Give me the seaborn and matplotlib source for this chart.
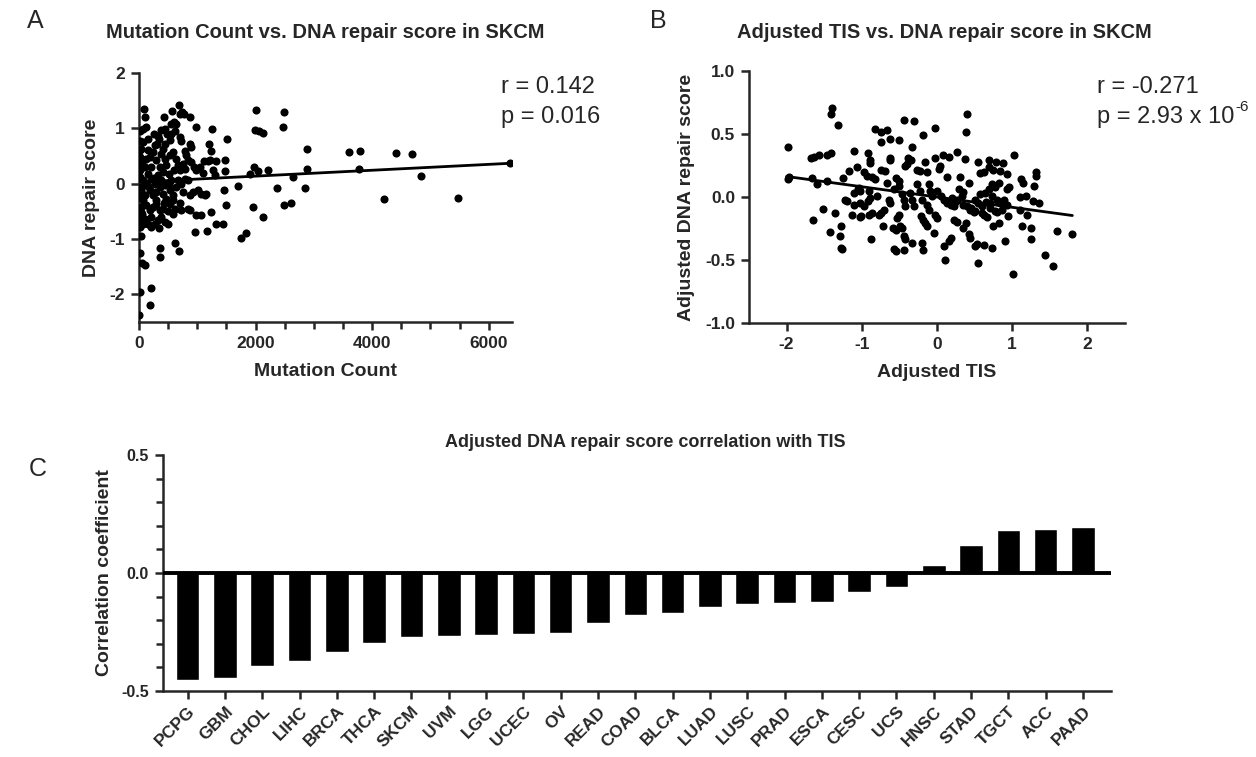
import numpy as np
import pandas as pd
import matplotlib
matplotlib.use("Agg")
import matplotlib.pyplot as plt
from matplotlib.ticker import MultipleLocator
import seaborn as sns

# panel A: mutation count vs DNA repair score
mut_count = [0, 23, 183, 212, 57, 97, 23, 40, 367, 367, 613, 688, 968, 1169, 1318, 1444,
             1748, 1834, 986, 1060, 1232, 1490, 1060, 1129, 1158, 1014, 928, 871, 842, 871,
             699, 584, 728, 1461, 1702, 1948, 2132, 2361, 2487, 2607, 2636, 2206, 1977, 2034,
             1902, 1518, 2005, 2487, 2476, 1988, 2063, 2120, 2876, 2876, 2848, 1255, 1203, 1243,
             1215, 1112, 1186, 1318, 1473, 1473, 1272, 1301, 1043, 1100, 986, 882, 774, 745,
             682, 573, 424, 80, 97, 69, 126, 384, 441, 327, 315, 556, 596, 642, 699, 613, 556,
             539, 699, 728, 871, 900, 785, 814, 842, 900, 940, 986, 756, 785, 642, 670, 699,
             584, 527, 441, 413, 384, 269, 241, 183, 155, 69, 40, 23, 57, 11, 97, 155, 212,
             298, 355, 413, 470, 516, 556, 327, 384, 441, 69, 126, 40, 183, 241, 298, 355, 413,
             470, 527, 584, 642, 69, 126, 183, 40, 97, 155, 212, 269, 327, 384, 441, 499, 241,
             298, 355, 413, 527, 584, 11, 69, 23, 670, 728, 785, 842, 756, 11, 23, 11, 0, 11,
             23, 11, 40, 150, 200, 250, 300, 350, 450, 500, 100, 200, 260, 480, 520, 600, 620,
             160, 280, 340, 120, 60, 430, 3600, 3790, 3780, 4200, 4405, 4680, 4845, 5465, 6365]
repair_score = [-2.37, -1.95, -2.2, -1.89, -1.43, -1.47, -1.25, -0.95, -1.17, -1.33, -1.08,
                -1.22, -0.88, -0.86, -0.72, -0.73, -0.99, -0.9, -0.57, -0.57, -0.51, -0.38,
                -0.19, -0.21, -0.18, -0.12, -0.15, -0.21, -0.45, -0.48, -0.35, -0.54, -0.48,
                -0.12, -0.05, -0.42, -0.6, -0.07, -0.38, -0.35, 0.12, 0.24, 0.31, 0.23, 0.17,
                0.81, 1.33, 1.30, 1.02, 0.97, 0.96, 0.91, 0.62, 0.27, -0.07, 0.99, 0.72, 0.59,
                0.42, 0.41, 0.41, 0.41, 0.42, 0.23, 0.24, 0.15, 0.30, 0.19, 1.02, 1.2, 1.26,
                1.29, 1.43, 1.32, 1.21, 1.35, 1.2, 0.99, 1.02, 0.97, 0.99, 0.87, 0.72, 1.08,
                1.11, 1.08, 1.26, 0.96, 0.9, 0.79, 0.84, 0.78, 0.72, 0.66, 0.59, 0.51, 0.42,
                0.39, 0.30, 0.24, 0.36, 0.27, 0.45, 0.33, 0.24, 0.57, 0.51, 0.72, 0.63, 0.54,
                0.69, 0.57, 0.48, 0.81, 0.75, 0.63, 0.48, 0.36, 0.24, 0.30, 0.18, 0.09, 0.42,
                0.30, 0.21, 0.33, 0.18, 0.06, 0.15, 0.06, -0.03, 0.06, -0.03, -0.12, -0.12,
                -0.21, -0.15, -0.06, -0.18, -0.27, -0.12, -0.21, -0.06, -0.30, -0.39, -0.48,
                -0.51, -0.63, -0.72, -0.78, -0.72, -0.66, -0.60, -0.69, -0.73, -0.42, -0.36,
                -0.48, -0.45, -0.36, -0.30, -0.78, -0.72, -0.66, 0.06, 0.0, 0.09, 0.06, -0.15,
                0.96, 0.78, 0.60, 0.36, 0.12, -0.06, -0.24, -0.42, 0.6, 0.3, 0.1, -0.3, 0.8,
                0.45, -0.5, -0.2, -0.6, 0.9, 0.9, 0.0, 0.25, -0.45, -0.05, 0.0, -0.8, 0.45,
                -0.55, -0.35, 0.58, 0.59, 0.27, -0.28, 0.56, 0.53, 0.14, -0.26, 0.37]
fit_a_x = [0, 6400]
fit_a_y = [0.03, 0.37]

# panel B: adjusted TIS vs adjusted DNA repair score
adj_tis = [-1.39, -1.41, -1.31, -1.98, -0.44, -0.30, 0.40, 0.38, -0.02, -0.18, -0.82, -0.75,
           -0.67, -0.75, -0.62, -0.51, -0.33, -1.98, -1.97, -1.68, -1.64, -1.57, -1.46, -1.41,
           -1.11, -0.92, -0.89, -0.885, -0.62, -0.62, -0.38, -0.35, -0.16, -0.02, 0.08, 0.155,
           0.27, 0.37, 0.54, 0.69, 0.79, 0.88, 1.03, -1.17, -1.06, -0.97, -0.93, -0.86, -0.83,
           -0.75, -0.69, -0.54, -0.51, -0.42, -0.40, -0.265, -0.22, -0.13, 0.02, 0.04, 0.13,
           0.31, 0.42, 0.575, 0.63, 0.69, 0.75, 0.84, 0.93, 1.12, 1.15, 1.31, 1.32, 1.29,
           -1.66, -1.59, -1.46, -1.25, -1.05, -1.02, -1.22, -1.20, -1.11, -1.02, -0.92, -1.01,
           -1.02, -0.86, -0.77, -0.80, -0.67, -0.64, -0.62, -0.575, -0.51, -0.46, -0.44, -0.42,
           -0.36, -0.33, -0.31, -0.265, -0.22, -0.2, -0.11, -0.09, -0.066, -0.13, -0.11, 0.0,
           0.05, 0.09, 0.13, 0.18, 0.22, 0.2, 0.27, 0.33, 0.29, 0.345, 0.4, 0.44, 0.49, 0.51,
           0.55, 0.6, 0.575, 0.64, 0.69, 0.73, 0.77, 0.82, 0.73, 0.8, 0.84, 0.71, 0.77, 0.62,
           0.66, 0.86, 0.93, 0.96, 0.885, 0.93, 0.95, 1.10, 1.19, 1.28, 1.35, 1.11, 1.2, 1.13,
           1.25, 1.25, 0.75, 0.82, 0.91, 0.73, 0.62, 0.53, 0.5, 0.44, 0.42, 0.345, 0.38, 0.22,
           0.27, 0.18, 0.155, 0.09, 0.11, 0.55, 1.01, 1.44, 1.54, 1.6, 1.8, -0.044, -0.02, 0.0,
           -0.13, -0.155, -0.21, -0.18, -0.2, -0.18, -0.33, -0.44, -0.42, -0.46, -0.49, -0.58,
           -0.55, -0.72, -0.575, -0.55, -0.44, -0.876, -0.51, -0.53, -0.75, -0.71, -0.9, -1.13,
           -1.28, -1.26, -1.28, -1.29, -1.42, -1.35, -1.51, -1.65, -1.04, -0.91, -0.885, -0.97,
           -1.11, 0.35, 0.45, 0.6, 0.7, 0.25, 0.5, 0.65, 0.8]
adj_repair = [0.707, 0.66, 0.573, 0.40, 0.61, 0.60, 0.66, 0.515, 0.547, 0.49, 0.536, 0.515,
              0.528, 0.44, 0.46, 0.456, 0.395, 0.14, 0.16, 0.31, 0.32, 0.33, 0.33, 0.35, 0.363,
              0.35, 0.29, 0.27, 0.31, 0.29, 0.31, 0.29, 0.28, 0.31, 0.33, 0.32, 0.355, 0.30,
              0.28, 0.29, 0.275, 0.27, 0.333, 0.21, 0.235, 0.195, 0.17, 0.155, 0.14, 0.215,
              0.21, 0.147, 0.13, 0.25, 0.26, 0.215, 0.21, 0.2, 0.22, 0.25, 0.16, 0.16, 0.115,
              0.19, 0.2, 0.235, 0.215, 0.21, 0.18, 0.14, 0.115, 0.2, 0.17, 0.09, 0.147, 0.10,
              0.128, 0.15, 0.067, 0.05, -0.02, -0.03, -0.067, -0.05, -0.03, -0.147, -0.157,
              -0.13, -0.14, 0.01, 0.11, -0.02, -0.045, 0.06, 0.09, 0.02, -0.02, -0.07, 0.035,
              -0.025, -0.07, 0.10, 0.05, -0.02, 0.10, 0.05, 0.01, -0.06, -0.1, 0.05, 0.01,
              -0.02, -0.045, -0.06, -0.07, -0.005, -0.02, 0.01, 0.06, 0.04, -0.07, -0.1, -0.12,
              -0.02, -0.045, -0.07, 0.02, 0.035, 0.06, 0.1, 0.083, 0.115, 0.01, -0.02, -0.045,
              -0.085, -0.11, -0.14, -0.157, -0.1, 0.06, 0.083, -0.02, -0.067, -0.15, 0.003,
              0.01, -0.03, -0.045, -0.1, -0.14, -0.227, -0.245, -0.33, -0.23, -0.205, -0.35,
              -0.405, -0.38, -0.37, -0.39, -0.325, -0.29, -0.245, -0.21, -0.18, -0.2, -0.325,
              -0.35, -0.39, -0.5, -0.52, -0.613, -0.46, -0.547, -0.267, -0.29, -0.285, -0.14,
              -0.165, -0.23, -0.205, -0.15, -0.18, -0.365, -0.42, -0.365, -0.31, -0.333,
              -0.245, -0.232, -0.245, -0.26, -0.227, -0.413, -0.432, -0.424, -0.33, -0.14,
              -0.165, -0.125, -0.1, -0.14, -0.14, -0.232, -0.413, -0.405, -0.31, -0.28, -0.13,
              -0.093, -0.18, 0.075, 0.05, -0.005, -0.07, 0.035, -0.06, -0.09, -0.13, -0.05,
              -0.03, -0.11, -0.04, -0.12]
fit_b_x = [-2.0, 1.8]
fit_b_y = [0.163, -0.147]

# panel C: correlation with TIS per cancer type
cancer_types = ["PCPG", "GBM", "CHOL", "LIHC", "BRCA", "THCA", "SKCM", "UVM", "LGG", "UCEC",
                "OV", "READ", "COAD", "BLCA", "LUAD", "LUSC", "PRAD", "ESCA", "CESC", "UCS",
                "HNSC", "STAD", "TGCT", "ACC", "PAAD"]
corr_coef = [-0.453, -0.446, -0.392, -0.371, -0.333, -0.295, -0.271, -0.266, -0.263, -0.259,
             -0.253, -0.212, -0.180, -0.171, -0.145, -0.131, -0.128, -0.124, -0.079, -0.060,
             0.036, 0.118, 0.182, 0.185, 0.196]

sns.set_style("ticks")
plt.rcParams['font.family'] = ['Liberation Sans', 'DejaVu Sans']
plt.rcParams['axes.unicode_minus'] = False
plt.rcParams['axes.linewidth'] = 1.8

W, H = 1256, 757
fig = plt.figure(figsize=(W / 100, H / 100), dpi=100)


def rect(x0, y0, x1, y1):
    # pixel box -> figure fraction
    return [x0 / W, 1 - y1 / H, (x1 - x0) / W, (y1 - y0) / H]


def style_axes(ax, size=12.5):
    sns.despine(ax=ax)
    ax.tick_params(which='major', direction='out', length=6, width=1.8, pad=4, labelsize=size)
    ax.tick_params(which='minor', direction='out', length=5, width=1.8)
    for lab in ax.get_xticklabels() + ax.get_yticklabels():
        lab.set_fontweight('bold')


def ftext(x, y, s, **kw):
    fig.text(x / W, 1 - y / H, s, **kw)


# ---- A ----
axA = fig.add_axes(rect(139, 73, 512, 322))
dfA = pd.DataFrame({'x': mut_count, 'y': repair_score})
sns.scatterplot(data=dfA, x='x', y='y', ax=axA, color='black', s=34, linewidth=0, zorder=3)
sns.lineplot(x=fit_a_x, y=fit_a_y, ax=axA, color='black', linewidth=2, zorder=4)
axA.set_xlim(0, 6400)
axA.set_ylim(-2.5, 2)
axA.set_xticks([0, 2000, 4000, 6000])
axA.xaxis.set_minor_locator(MultipleLocator(500))
axA.set_yticks([-2, -1, 0, 1, 2])
style_axes(axA)
axA.set_xlabel('Mutation Count', fontsize=14, fontweight='bold', labelpad=9)
axA.set_ylabel('DNA repair score', fontsize=14, fontweight='bold', labelpad=7)

# ---- B ----
axB = fig.add_axes(rect(749, 71, 1125, 323))
dfB = pd.DataFrame({'x': adj_tis, 'y': adj_repair})
sns.scatterplot(data=dfB, x='x', y='y', ax=axB, color='black', s=34, linewidth=0, zorder=3)
sns.lineplot(x=fit_b_x, y=fit_b_y, ax=axB, color='black', linewidth=2, zorder=4)
axB.set_xlim(-2.5, 2.5)
axB.set_ylim(-1, 1)
axB.set_xticks([-2, -1, 0, 1, 2])
axB.set_yticks([-1, -0.5, 0, 0.5, 1])
axB.set_yticklabels(['-1.0', '-0.5', '0.0', '0.5', '1.0'])
style_axes(axB)
axB.set_xlabel('Adjusted TIS', fontsize=14, fontweight='bold', labelpad=9)
axB.set_ylabel('Adjusted DNA repair score', fontsize=14, fontweight='bold', labelpad=7)

# ---- C ----
axC = fig.add_axes(rect(163, 455, 1111, 691))
dfC = pd.DataFrame({'cancer': cancer_types, 'r': corr_coef})
sns.barplot(data=dfC, x='cancer', y='r', ax=axC, color='black', width=0.63,
            saturation=1, order=cancer_types)
axC.axhline(0, color='black', linewidth=2.8, zorder=5)
axC.set_xlim(-0.66, 24.75)
axC.set_ylim(-0.5, 0.5)
axC.set_yticks([-0.5, 0, 0.5])
axC.set_yticklabels(['-0.5', '0.0', '0.5'])
axC.yaxis.set_minor_locator(MultipleLocator(0.1))
style_axes(axC, size=11.5)
axC.tick_params(axis='x', labelsize=12.5, pad=3)
for lab in axC.get_xticklabels():
    lab.set_rotation(45)
    lab.set_ha('right')
    lab.set_rotation_mode('anchor')
axC.set_xlabel('')
axC.set_ylabel('Correlation coefficient', fontsize=14, fontweight='bold', labelpad=6)

# titles, letters and stats
ftext(325, 38, 'Mutation Count vs. DNA repair score in SKCM', fontsize=14.5,
      fontweight='bold', ha='center', va='baseline')
ftext(944, 38, 'Adjusted TIS vs. DNA repair score in SKCM', fontsize=14.5,
      fontweight='bold', ha='center', va='baseline')
ftext(645, 447, 'Adjusted DNA repair score correlation with TIS', fontsize=13,
      fontweight='bold', ha='center', va='baseline')
ftext(27, 28, 'A', fontsize=18, va='baseline')
ftext(650, 28, 'B', fontsize=18, va='baseline')
ftext(29, 476, 'C', fontsize=18, va='baseline')
ftext(501, 93, 'r = 0.142', fontsize=17, va='baseline')
ftext(501, 123, 'p = 0.016', fontsize=17, va='baseline')
ftext(1097, 93, 'r = -0.271', fontsize=17, va='baseline')
ftext(1097, 123, 'p = 2.93 x 10', fontsize=17, va='baseline')
ftext(1235, 111, '-6', fontsize=11, va='baseline')

fig.savefig('out.png', dpi=100)
